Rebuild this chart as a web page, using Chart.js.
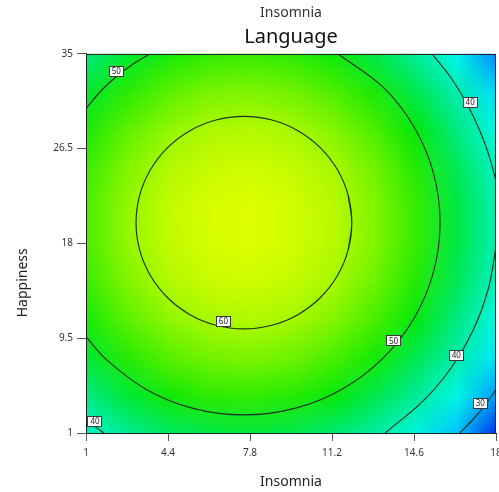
<!DOCTYPE html>
<html><head><meta charset="utf-8">
<script src="https://cdn.jsdelivr.net/npm/chart.js@4.4.1/dist/chart.umd.min.js"></script>
<style>html,body{margin:0;padding:0;background:#fff;}</style>
</head><body>
<canvas id="c" width="499" height="492"></canvas>
<script>
// ---- data ----
const xNodes = [1, 2.7, 4.4, 6.1, 7.8, 9.5, 11.2, 12.9, 14.6, 16.3, 18];
const yNodes = [1, 4.4, 7.8, 11.2, 14.6, 18, 21.4, 24.8, 28.2, 31.6, 35];
// rows follow yNodes (bottom to top), columns follow xNodes
const zGrid = [
  [38.0, 42.3, 45.3, 47.0, 47.5, 46.6, 44.5, 41.1, 36.5, 30.5, 22.9],
  [43.5, 47.8, 50.8, 52.6, 53.0, 52.2, 50.1, 46.7, 42.0, 36.0, 28.4],
  [48.0, 52.3, 55.3, 57.0, 57.5, 56.6, 54.5, 51.1, 46.4, 40.5, 32.9],
  [51.3, 55.6, 58.6, 60.3, 60.8, 60.0, 57.9, 54.5, 49.8, 43.8, 36.2],
  [53.5, 57.8, 60.9, 62.6, 63.0, 62.2, 60.1, 56.7, 52.0, 46.1, 38.5],
  [54.7, 59.0, 62.0, 63.7, 64.2, 63.4, 61.2, 57.9, 53.2, 47.2, 39.6],
  [54.7, 59.0, 62.1, 63.8, 64.2, 63.4, 61.3, 57.9, 53.2, 47.3, 39.7],
  [53.7, 58.0, 61.0, 62.7, 63.2, 62.4, 60.3, 56.9, 52.2, 46.2, 38.4],
  [51.6, 55.9, 58.9, 60.6, 61.1, 60.2, 58.1, 54.7, 50.0, 43.9, 36.0],
  [48.3, 52.6, 55.6, 57.4, 57.8, 57.0, 54.9, 51.5, 46.6, 40.2, 32.2],
  [44.0, 48.3, 51.3, 53.0, 53.5, 52.6, 50.5, 47.0, 42.2, 35.6, 27.4]
];
const xTicks = [1, 4.4, 7.8, 11.2, 14.6, 18];
const yTicks = [1, 9.5, 18, 26.5, 35];

// closed 60 loop (first two points repeated at the end so the curve closes smoothly)
const contour60 = [[11.869,17.395],[12.021,19.86],[11.869,22.325],[11.422,24.623],[10.711,26.595],[9.785,28.109],[8.706,29.06],[7.548,29.385],[6.390,29.06],[5.311,28.109],[4.385,26.595],[3.674,24.623],[3.227,22.325],[3.075,19.86],[3.227,17.395],[3.674,15.098],[4.385,13.125],[5.311,11.611],[6.390,10.66],[7.548,10.335],[8.706,10.66],[9.785,11.611],[10.711,13.125],[11.422,15.098],[11.869,17.395],[12.021,19.86],[11.869,22.325]];
const contour50a = [[1.0,30.09],[1.599,31.62],[2.213,32.87],[2.883,33.98],[3.658,35]];
const contour50b = [[11.438,35],[13.299,32.05],[14.591,28.48],[15.404,24.322],[15.681,19.86],[15.404,15.398],[14.591,11.24],[13.299,7.67],[11.615,4.93],[9.653,3.207],[7.548,2.62],[5.443,3.207],[3.481,4.93],[1.797,7.67],[1.0,9.63]];
const contour40a = [[15.343,35],[16.13,32.85],[16.80,30.49],[17.35,27.98],[17.75,25.6],[18,23.6]];
const contour40b = [[18,17.7],[17.69,14.0],[17.064,10.29],[16.15,6.87],[14.97,3.85],[13.4,1]];
const contour40c = [[1.0,2.18],[1.366,1.57],[1.744,1]];
const contour30 = [[16.5,1],[17.08,2.3],[17.58,3.6],[18,4.9]];

const labelText = ['50', '60', '50', '40', '30', '40', '40'];
const labelX = [2.257, 6.697, 13.75, 16.35, 17.35, 16.93, 1.373];
const labelY = [33.43, 10.99, 9.26, 7.94, 3.67, 30.67, 2.02];

// ---- styling ----
const FONT = "'Noto Sans', 'Open Sans', sans-serif";
const stopVals = [22, 25, 28, 31, 34, 37, 40, 44, 47, 50, 54, 58, 61, 64.5];
const stopCols = [[0,25,225],[0,90,245],[0,145,255],[0,205,255],[0,248,250],[0,246,218],[0,238,178],[0,234,125],[0,232,70],[5,232,10],[65,238,0],[132,245,0],[180,250,0],[225,255,0]];
function colorFor(v) {
  if (v <= stopVals[0]) return stopCols[0];
  for (let i = 1; i < stopVals.length; i++) {
    if (v <= stopVals[i]) {
      const t = (v - stopVals[i-1]) / (stopVals[i] - stopVals[i-1]);
      const a = stopCols[i-1], b = stopCols[i];
      return [a[0]+(b[0]-a[0])*t, a[1]+(b[1]-a[1])*t, a[2]+(b[2]-a[2])*t];
    }
  }
  return stopCols[stopCols.length-1];
}

const heatmapPlugin = {
  id: 'heatmap',
  beforeDatasetsDraw(chart) {
    const {ctx, chartArea: a, scales: {x, y}} = chart;
    const nx = xNodes.length, ny = yNodes.length;
    const off = document.createElement('canvas');
    off.width = nx; off.height = ny;
    const octx = off.getContext('2d');
    const img = octx.createImageData(nx, ny);
    for (let j = 0; j < ny; j++) {
      const row = zGrid[ny - 1 - j];
      for (let i = 0; i < nx; i++) {
        const c = colorFor(row[i]);
        const k = (j * nx + i) * 4;
        img.data[k] = Math.round(c[0]); img.data[k+1] = Math.round(c[1]);
        img.data[k+2] = Math.round(c[2]); img.data[k+3] = 255;
      }
    }
    octx.putImageData(img, 0, 0);
    const dx = xNodes[1] - xNodes[0], dy = yNodes[1] - yNodes[0];
    const left = x.getPixelForValue(xNodes[0] - dx/2), right = x.getPixelForValue(xNodes[nx-1] + dx/2);
    const top = y.getPixelForValue(yNodes[ny-1] + dy/2), bottom = y.getPixelForValue(yNodes[0] - dy/2);
    ctx.save();
    ctx.beginPath(); ctx.rect(a.left, a.top, a.right - a.left, a.bottom - a.top); ctx.clip();
    ctx.imageSmoothingEnabled = true; ctx.imageSmoothingQuality = 'low';
    ctx.drawImage(off, left, top, right - left, bottom - top);
    ctx.restore();
  },
  afterDatasetsDraw(chart) {
    const {ctx, chartArea: a, scales: {x, y}} = chart;
    ctx.save();
    ctx.strokeStyle = '#222'; ctx.lineWidth = 1;
    ctx.strokeRect(Math.round(a.left) + 0.5, Math.round(a.top) + 0.5, Math.round(a.right - a.left) - 1, Math.round(a.bottom - a.top));
    // contour labels
    ctx.font = '8px ' + FONT;
    ctx.textAlign = 'center'; ctx.textBaseline = 'middle';
    for (let i = 0; i < labelText.length; i++) {
      const px = x.getPixelForValue(labelX[i]), py = y.getPixelForValue(labelY[i]);
      const w = 15, h = 11;
      ctx.fillStyle = '#fff';
      ctx.fillRect(Math.round(px - w/2), Math.round(py - h/2), w, h);
      ctx.strokeStyle = '#3a3a3a';
      ctx.strokeRect(Math.round(px - w/2) + 0.5, Math.round(py - h/2) + 0.5, w - 1, h - 1);
      ctx.fillStyle = '#222';
      ctx.fillText(labelText[i], px, py + 0.5);
    }
    ctx.restore();
  },
  afterDraw(chart) {
    const {ctx, chartArea: a} = chart;
    ctx.save();
    ctx.font = '14px ' + FONT;
    ctx.fillStyle = '#222';
    ctx.textAlign = 'center'; ctx.textBaseline = 'middle';
    ctx.translate(23, a.top + 229);
    ctx.rotate(-Math.PI / 2);
    ctx.fillText('Happiness', 0, 0);
    ctx.restore();
  }
};

function lineSet(pts) {
  return {
    data: pts.map(p => ({x: p[0], y: p[1]})),
    showLine: true, pointRadius: 0, borderColor: '#1c321c', borderWidth: 1.15,
    tension: 0.35, fill: false
  };
}

new Chart(document.getElementById('c'), {
  type: 'scatter',
  data: {
    datasets: [contour60, contour50a, contour50b, contour40a, contour40b, contour40c, contour30].map(lineSet)
  },
  options: {
    responsive: false, animation: false, events: [],
    layout: {padding: {left: 0, right: 3, top: 0, bottom: 0}},
    plugins: {
      legend: {display: false}, tooltip: {enabled: false},
      title: {display: true, text: 'Language', fullSize: false, color: '#111',
        font: {size: 20, family: FONT, weight: 'normal', lineHeight: 1.2}, padding: {top: 1, bottom: 5}},
      subtitle: {display: true, text: 'Insomnia', fullSize: false, weight: 2500, color: '#333',
        font: {size: 14, family: FONT, weight: 'normal', lineHeight: 1.2}, padding: {top: 5, bottom: 2}}
    },
    scales: {
      x: {
        type: 'linear', min: 1, max: 18,
        afterBuildTicks: s => { s.ticks = xTicks.map(v => ({value: v})); },
        afterFit: s => { s.height = 59; s.paddingLeft = 0; s.paddingRight = 0; },
        ticks: {callback: v => String(v), font: {size: 10, family: FONT}, color: '#333', padding: 6, maxRotation: 0, autoSkip: false},
        grid: {drawOnChartArea: false, drawTicks: true, tickLength: 8, color: '#555'},
        border: {display: true, color: '#222'},
        title: {display: true, text: 'Insomnia', color: '#222', font: {size: 14, family: FONT, lineHeight: 1.2}, padding: {top: 0, bottom: 2}}
      },
      y: {
        type: 'linear', min: 1, max: 35,
        afterBuildTicks: s => { s.ticks = yTicks.map(v => ({value: v})); },
        afterFit: s => { s.width = 86; s.paddingTop = 0; s.paddingBottom = 0; },
        ticks: {callback: v => String(v), font: {size: 10, family: FONT}, color: '#333', padding: 4, autoSkip: false},
        grid: {drawOnChartArea: false, drawTicks: true, tickLength: 9, color: '#555'},
        border: {display: true, color: '#222'}
      }
    }
  },
  plugins: [heatmapPlugin]
});
</script>
</body></html>
